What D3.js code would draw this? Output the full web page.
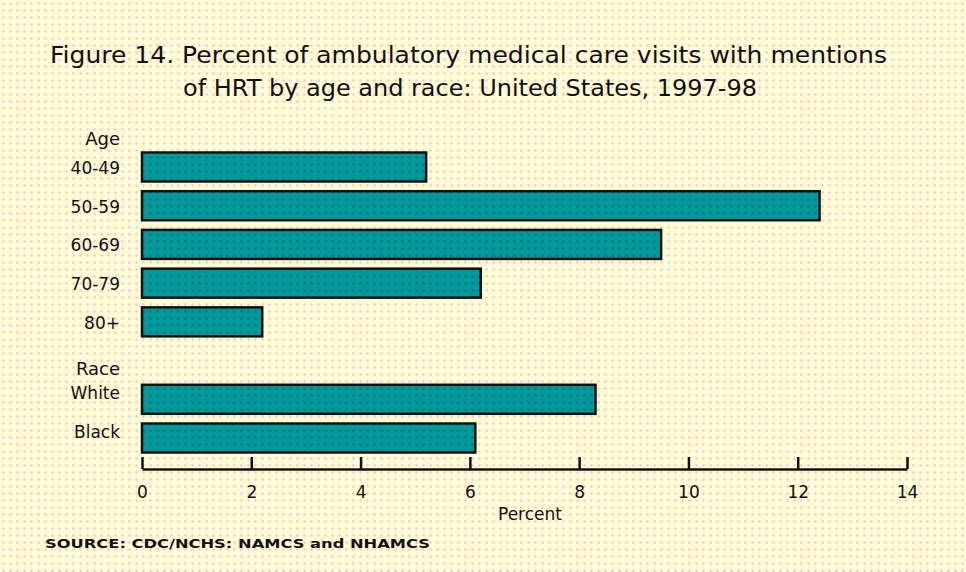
<!doctype html>
<html>
<head>
    <meta charset="utf8">
    <script src="https://d3js.org/d3.v7.min.js"></script>
    <style>
        body { margin: 0; background: #fffdd8; }
        text { font-family: "DejaVu Sans", Verdana, sans-serif; fill: #111; }
        .bar { fill: url(#tealDots); stroke: #111; stroke-width: 2.5; }
    </style>
</head>
<body>
<svg width="966" height="572"></svg>
<script>

    // values
    var ageGroups = ["40-49", "50-59", "60-69", "70-79", "80+"],
        ageValues = [5.2, 12.4, 9.5, 6.2, 2.2],
        raceGroups = ["White", "Black"],
        raceValues = [8.3, 6.1],
        xTicks = [0, 2, 4, 6, 8, 10, 12, 14];

    var svg = d3.select("svg");

    // dotted backgrounds
    var defs = svg.append("defs");
    var bg = defs.append("pattern")
        .attr("id", "bgDots")
        .attr("patternUnits", "userSpaceOnUse")
        .attr("width", 7).attr("height", 7);
    bg.append("rect").attr("width", 7).attr("height", 7).attr("fill", "#fffcd6");
    bg.append("circle").attr("cx", 3.5).attr("cy", 3.5).attr("r", 1.3).attr("fill", "#f7c6d0");

    var teal = defs.append("pattern")
        .attr("id", "tealDots")
        .attr("patternUnits", "userSpaceOnUse")
        .attr("width", 7).attr("height", 7);
    teal.append("rect").attr("width", 7).attr("height", 7).attr("fill", "#009a9a");
    teal.append("circle").attr("cx", 3.5).attr("cy", 3.5).attr("r", 1.2).attr("fill", "#1d6f86");

    svg.append("rect")
       .attr("width", 966).attr("height", 572)
       .attr("fill", "url(#bgDots)");

    // title
    svg.append("text")
       .attr("x", 50).attr("y", 63)
       .attr("font-size", "23px")
       .attr("textLength", 837).attr("lengthAdjust", "spacingAndGlyphs")
       .text("Figure 14. Percent of ambulatory medical care visits with mentions");
    svg.append("text")
       .attr("x", 183).attr("y", 96)
       .attr("font-size", "23px")
       .attr("textLength", 574).attr("lengthAdjust", "spacingAndGlyphs")
       .text("of HRT by age and race: United States, 1997-98");

    // rows: a blank slot is kept for the "Race" heading
    var data = ageGroups.map(function(d, i) { return {label: d, value: ageValues[i]}; })
        .concat(raceGroups.map(function(d, i) { return {label: d, value: raceValues[i]}; }));
    var rows = ageGroups.concat(["Race"], raceGroups);

    var x = d3.scaleLinear().domain([0, 14]).range([142, 907]),
        y = d3.scalePoint().domain(rows).range([167, 438]),
        barH = 29;

    svg.selectAll(".bar")
       .data(data)
       .enter().append("rect")
       .attr("class", "bar")
       .attr("x", x(0))
       .attr("y", function(d) { return y(d.label) - barH / 2; })
       .attr("width", function(d) { return x(d.value) - x(0); })
       .attr("height", barH);

    // category labels
    svg.selectAll(".cat")
       .data(data)
       .enter().append("text")
       .attr("class", "cat")
       .attr("x", 120)
       .attr("y", function(d, i) { return y(d.label) + (i < 5 ? 7 : 0); })
       .attr("text-anchor", "end")
       .attr("font-size", "17px")
       .text(function(d) { return d.label; });

    svg.append("text")
       .attr("x", 120).attr("y", y("40-49") - 22)
       .attr("text-anchor", "end").attr("font-size", "18px")
       .text("Age");
    svg.append("text")
       .attr("x", 120).attr("y", y("Race") + 14)
       .attr("text-anchor", "end").attr("font-size", "18px")
       .text("Race");

    // x axis, ticks pointing up
    var axis = svg.append("g")
       .attr("transform", "translate(0,469)")
       .call(d3.axisBottom(x).tickValues(xTicks).tickSize(-12).tickSizeOuter(0).tickPadding(17));
    axis.selectAll("path, line").attr("stroke", "#111").attr("stroke-width", 2.5);
    axis.selectAll("text")
        .attr("font-size", "17px")
        .attr("font-family", "DejaVu Sans, Verdana, sans-serif")
        .attr("fill", "#111");

    svg.append("text")
       .attr("x", 530).attr("y", 520)
       .attr("text-anchor", "middle").attr("font-size", "17px")
       .text("Percent");

    svg.append("text")
       .attr("x", 45).attr("y", 548)
       .attr("font-size", "13px").attr("font-weight", "bold")
       .attr("textLength", 385).attr("lengthAdjust", "spacingAndGlyphs")
       .text("SOURCE: CDC/NCHS: NAMCS and NHAMCS");

</script>
</body>
</html>
